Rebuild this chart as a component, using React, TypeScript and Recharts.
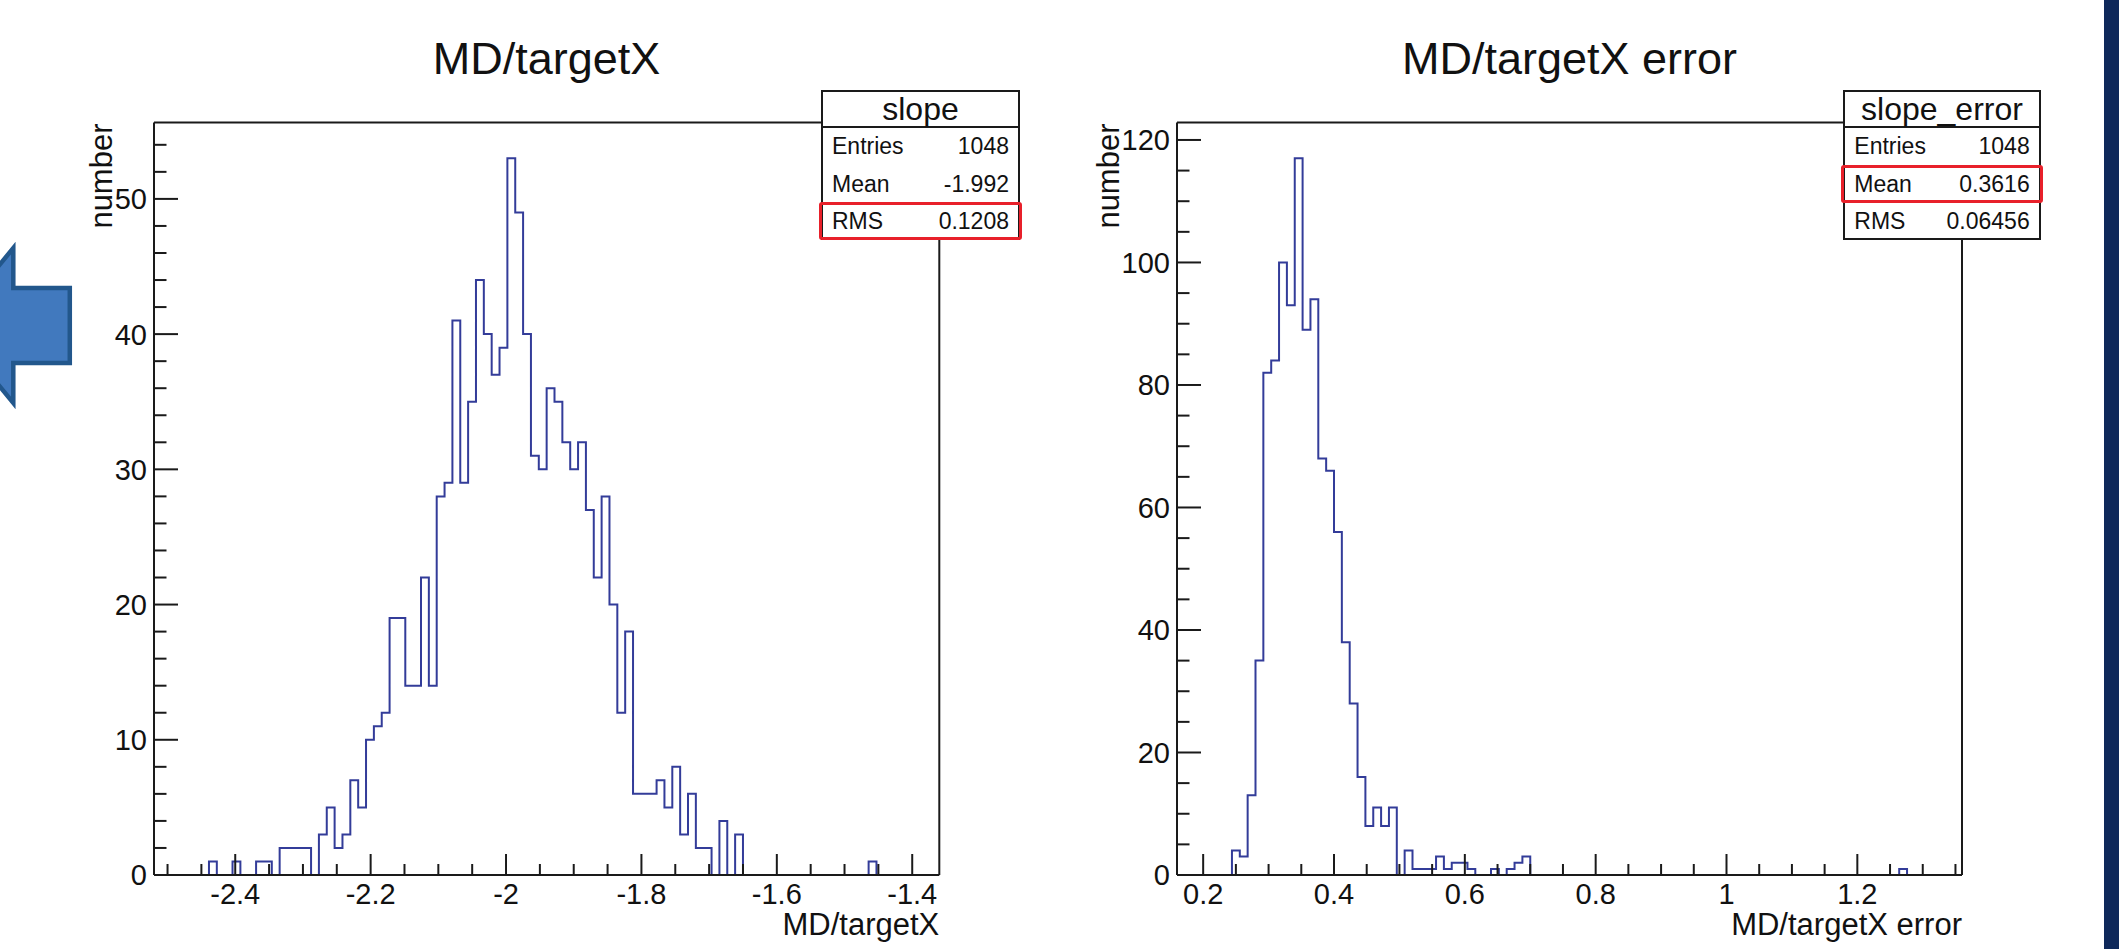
import React from 'react';
import { LineChart, Line, XAxis, YAxis, ReferenceLine } from 'recharts';

const FONT = "'Liberation Sans', Arial, Helvetica, sans-serif";
const HIST_COLOR = '#333C99';
const AXIS_COLOR = '#1a1a1a';

// ---------- Left panel: MD/targetX (stat box "slope") ----------
const slopeTitle = 'MD/targetX';
const slopeXTitle = 'MD/targetX';
const slopeRange = [-2.52, -1.36];
const slopeYMax = 55.65;
const slopeCounts = [
  0, 0, 0, 0, 0, 0, 0, 1, 0, 0,
  1, 0, 0, 1, 1, 0, 2, 2, 2, 2,
  0, 3, 5, 2, 3, 7, 5, 10, 11, 12,
  19, 19, 14, 14, 22, 14, 28, 29, 41, 29,
  35, 44, 40, 37, 39, 53, 49, 40, 31, 30,
  36, 35, 32, 30, 32, 27, 22, 28, 20, 12,
  18, 6, 6, 6, 7, 5, 8, 3, 6, 2,
  2, 0, 4, 0, 3, 0, 0, 0, 0, 0,
  0, 0, 0, 0, 0, 0, 0, 0, 0, 0,
  0, 1, 0, 0, 0, 0, 0, 0, 0, 0,
];
const slopeXMajor = [-2.4, -2.2, -2, -1.8, -1.6, -1.4];
const slopeXLabels = ['-2.4', '-2.2', '-2', '-1.8', '-1.6', '-1.4'];
const slopeYMajor = [0, 10, 20, 30, 40, 50];
const slopeYLabels = ['0', '10', '20', '30', '40', '50'];
const slopeStatName = 'slope';
const slopeStatKeys = ['Entries', 'Mean', 'RMS'];
const slopeStatValues = ['1048', '-1.992', '0.1208'];

// ---------- Right panel: MD/targetX error (stat box "slope_error") ----------
const errTitle = 'MD/targetX error';
const errXTitle = 'MD/targetX error';
const errRange = [0.16, 1.36];
const errYMax = 122.85;
const errCounts = [
  0, 0, 0, 0, 0, 0, 0, 4, 3, 13,
  35, 82, 84, 100, 93, 117, 89, 94, 68, 66,
  56, 38, 28, 16, 8, 11, 8, 11, 0, 4,
  1, 1, 1, 3, 1, 2, 2, 1, 0, 0,
  1, 0, 1, 2, 3, 0, 0, 0, 0, 0,
  0, 0, 0, 0, 0, 0, 0, 0, 0, 0,
  0, 0, 0, 0, 0, 0, 0, 0, 0, 0,
  0, 0, 0, 0, 0, 0, 0, 0, 0, 0,
  0, 0, 0, 0, 0, 0, 0, 0, 0, 0,
  0, 0, 1, 0, 0, 0, 0, 0, 0, 0,
];
const errXMajor = [0.2, 0.4, 0.6, 0.8, 1, 1.2];
const errXLabels = ['0.2', '0.4', '0.6', '0.8', '1', '1.2'];
const errYMajor = [0, 20, 40, 60, 80, 100, 120];
const errYLabels = ['0', '20', '40', '60', '80', '100', '120'];
const errStatName = 'slope_error';
const errStatKeys = ['Entries', 'Mean', 'RMS'];
const errStatValues = ['1048', '0.3616', '0.06456'];

const yAxisTitle = 'number';

// tick position helper (positions only, not data)
function tickRange(start: number, end: number, step: number): number[] {
  const out: number[] = [];
  const n = Math.round((end - start) / step);
  for (let i = 0; i <= n; i++) out.push(Math.round((start + i * step) * 10000) / 10000);
  return out;
}

function buildHist(range: number[], counts: number[]) {
  const [lo, hi] = range;
  const w = (hi - lo) / counts.length;
  const pts = counts.map((c, i) => ({ x: lo + i * w, y: c }));
  pts.push({ x: hi, y: counts[counts.length - 1] });
  return pts;
}

const findIdx = (arr: number[], v: number) => arr.findIndex((m) => Math.abs(m - v) < 1e-6);

const makeXTick = (majors: number[], labels: string[]) => (props: any) => {
  const { x, y, payload } = props;
  const idx = findIdx(majors, Number(payload.value));
  const major = idx >= 0;
  return (
    <g>
      <line x1={x} x2={x} y1={y} y2={y - (major ? 21 : 11)} stroke={AXIS_COLOR} strokeWidth={2} />
      {major && (
        <text x={x} y={y + 29} textAnchor="middle" fontSize={29} fontFamily={FONT} fill="#111">
          {labels[idx]}
        </text>
      )}
    </g>
  );
};

const makeYTick = (majors: number[], labels: string[]) => (props: any) => {
  const { x, y, payload } = props;
  const idx = findIdx(majors, Number(payload.value));
  const major = idx >= 0;
  return (
    <g>
      <line x1={x} x2={x + (major ? 24 : 12.5)} y1={y} y2={y} stroke={AXIS_COLOR} strokeWidth={2} />
      {major && (
        <text x={x - 7} y={y} dy="0.36em" textAnchor="end" fontSize={29} fontFamily={FONT} fill="#111">
          {labels[idx]}
        </text>
      )}
    </g>
  );
};

type PanelProps = {
  left: number;
  width: number;
  yAxisWidth: number;
  yTitleX: number;
  marginRight: number;
  range: number[];
  yMax: number;
  counts: number[];
  xMajor: number[];
  xLabels: string[];
  xMinor: number[];
  yMajor: number[];
  yLabels: string[];
  yMinor: number[];
  xTitle: string;
};

const H = 949;
const TOP = 122.5;
const XAXIS_H = 74;

function Panel(p: PanelProps) {
  const data = buildHist(p.range, p.counts);
  const plotRight = p.width - p.marginRight;
  return (
    <div style={{ position: 'absolute', left: p.left, top: 0, width: p.width, height: H }}>
      <LineChart
        width={p.width}
        height={H}
        data={data}
        margin={{ top: TOP, right: p.marginRight, bottom: 0, left: 0 }}
      >
        <Line
          dataKey="y"
          type="stepAfter"
          stroke={HIST_COLOR}
          strokeWidth={2}
          dot={false}
          activeDot={false}
          isAnimationActive={false}
        />
        <ReferenceLine y={p.yMax} stroke={AXIS_COLOR} strokeWidth={2} />
        <ReferenceLine x={p.range[1]} stroke={AXIS_COLOR} strokeWidth={2} />
        <XAxis
          dataKey="x"
          type="number"
          domain={p.range}
          allowDataOverflow
          ticks={p.xMinor}
          interval={0}
          height={XAXIS_H}
          tickSize={0}
          tickMargin={0}
          tickLine={false}
          axisLine={{ stroke: AXIS_COLOR, strokeWidth: 2 }}
          tick={makeXTick(p.xMajor, p.xLabels)}
          label={{
            content: () => (
              <text x={plotRight} y={935} textAnchor="end" fontSize={31} fontFamily={FONT} fill="#111">
                {p.xTitle}
              </text>
            ),
          }}
        />
        <YAxis
          type="number"
          domain={[0, p.yMax]}
          allowDataOverflow
          ticks={p.yMinor}
          interval={0}
          width={p.yAxisWidth}
          tickSize={0}
          tickMargin={0}
          tickLine={false}
          axisLine={{ stroke: AXIS_COLOR, strokeWidth: 2 }}
          tick={makeYTick(p.yMajor, p.yLabels)}
          label={{
            content: () => (
              <text
                transform={`translate(${p.yTitleX},${TOP + 1}) rotate(-90)`}
                textAnchor="end"
                fontSize={31}
                fontFamily={FONT}
                fill="#111"
              >
                {yAxisTitle}
              </text>
            ),
          }}
        />
      </LineChart>
    </div>
  );
}

function StatBox(props: {
  x: number;
  w: number;
  name: string;
  keys: string[];
  values: string[];
  highlight: number;
}) {
  const top = 90;
  const headerH = 38.3;
  const rowH = 37.2;
  const totalH = headerH + rowH * props.keys.length;
  return (
    <>
      <div
        style={{
          position: 'absolute',
          left: props.x,
          top,
          width: props.w,
          height: totalH,
          background: '#fff',
          border: '2px solid #1a1a1a',
          boxSizing: 'border-box',
          fontFamily: FONT,
          color: '#111',
          zIndex: 5,
        }}
      >
        <div
          style={{
            height: headerH - 2,
            borderBottom: '2px solid #1a1a1a',
            boxSizing: 'border-box',
            display: 'flex',
            alignItems: 'center',
            justifyContent: 'center',
            fontSize: 32,
          }}
        >
          {props.name}
        </div>
        {props.keys.map((k, i) => (
          <div
            key={k}
            style={{
              height: rowH,
              display: 'flex',
              justifyContent: 'space-between',
              alignItems: 'center',
              padding: '0 9px 0 9px',
              fontSize: 23,
            }}
          >
            <span>{k}</span>
            <span>{props.values[i]}</span>
          </div>
        ))}
      </div>
      <div
        style={{
          position: 'absolute',
          left: props.x - 2,
          top: top + headerH + rowH * props.highlight - 1,
          width: props.w + 4,
          height: rowH + 1.5,
          border: '3.5px solid #E8202A',
          borderRadius: 3,
          boxSizing: 'border-box',
          zIndex: 6,
        }}
      />
    </>
  );
}

export default function App() {
  return (
    <div
      style={{
        position: 'absolute',
        left: 0,
        top: 0,
        width: 2119,
        height: 949,
        background: '#fff',
        overflow: 'hidden',
      }}
    >
      <Panel
        left={0}
        width={1060}
        yAxisWidth={154}
        yTitleX={111.5}
        marginRight={120.7}
        range={slopeRange}
        yMax={slopeYMax}
        counts={slopeCounts}
        xMajor={slopeXMajor}
        xLabels={slopeXLabels}
        xMinor={tickRange(-2.5, -1.4, 0.05)}
        yMajor={slopeYMajor}
        yLabels={slopeYLabels}
        yMinor={tickRange(0, 54, 2)}
        xTitle={slopeXTitle}
      />
      <Panel
        left={1060}
        width={1059}
        yAxisWidth={117}
        yTitleX={58.8}
        marginRight={157}
        range={errRange}
        yMax={errYMax}
        counts={errCounts}
        xMajor={errXMajor}
        xLabels={errXLabels}
        xMinor={tickRange(0.2, 1.35, 0.05)}
        yMajor={errYMajor}
        yLabels={errYLabels}
        yMinor={tickRange(0, 120, 5)}
        xTitle={errXTitle}
      />
      <svg
        width={2119}
        height={949}
        style={{ position: 'absolute', left: 0, top: 0, pointerEvents: 'none', zIndex: 4 }}
      >
        <text x={546.5} y={74} textAnchor="middle" fontSize={45} fontFamily={FONT} fill="#111">
          {slopeTitle}
        </text>
        <text x={1569.5} y={74} textAnchor="middle" fontSize={45} fontFamily={FONT} fill="#111">
          {errTitle}
        </text>
        <polygon
          points="-50,325.5 13.3,248 13.3,288 69.8,288 69.8,363 13.3,363 13.3,403"
          fill="#4179BE"
          stroke="#22578C"
          strokeWidth={4.5}
          strokeLinejoin="miter"
        />
      </svg>
      <StatBox
        x={821}
        w={199}
        name={slopeStatName}
        keys={slopeStatKeys}
        values={slopeStatValues}
        highlight={2}
      />
      <StatBox
        x={1843.3}
        w={197.4}
        name={errStatName}
        keys={errStatKeys}
        values={errStatValues}
        highlight={1}
      />
      <div
        style={{
          position: 'absolute',
          left: 2104,
          top: 0,
          width: 15,
          height: 949,
          background: '#0E285A',
          zIndex: 7,
        }}
      />
    </div>
  );
}
